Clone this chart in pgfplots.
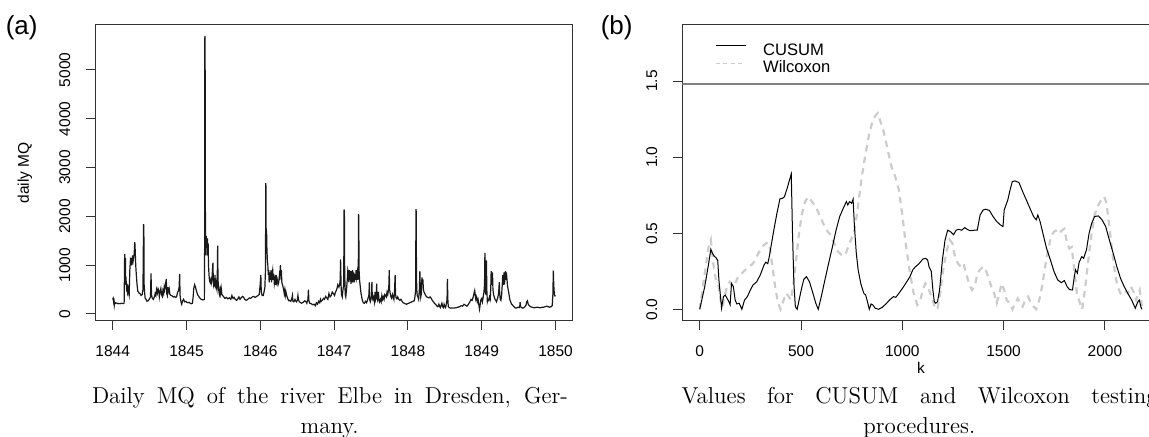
\documentclass[border=0pt]{standalone}
\usepackage{fontspec}
\setsansfont{Liberation Sans}
\usepackage{pgfplots}
\pgfplotsset{compat=1.18}

% scale: 1 px of the reference = 0.5pt
\pgfplotsset{
  rplot/.style={
    scale only axis, width=238.75pt, height=147.85pt, anchor=origin,
    axis line style={black!80, line width=0.5pt},
    tick align=outside, tick pos=left, major tick length=4.75pt,
    tick style={black!80, line width=0.5pt},
    /pgf/number format/assume math mode=true,
    /pgf/number format/1000 sep={},
    tick label style={font=\sffamily\fontsize{7.75}{9}\selectfont},
    xticklabel style={anchor=north, inner sep=0pt, yshift=-7.6pt},
    yticklabel style={rotate=90, anchor=south, inner sep=0pt, yshift=7.5pt},
  },
}

\begin{document}
\begin{tikzpicture}[x=1pt,y=1pt]

\node[font=\sffamily\fontsize{13}{15}\selectfont] at (10.85,-13.75) {(a)};
\node[font=\sffamily\fontsize{13}{15}\selectfont] at (308.35,-13.75) {(b)};

% (a) daily MQ, x = years after 1844
\begin{axis}[rplot, at={(56.35pt,-157pt)},
    xmin=-0.236, xmax=6.234, ymin=-137, ymax=5922,
    xtick={0,1,2,3,4,5,6},
    xticklabels={1844,1845,1846,1847,1848,1849,1850},
    ytick={0,1000,2000,3000,4000,5000},
    ylabel={daily MQ},
    every axis y label/.style={at={(axis description cs:-0.1476,0.5)}, rotate=90, anchor=center,
      font=\sffamily\fontsize{7.75}{9}\selectfont},
]
\addplot[black!90, line width=0.6pt] coordinates {
(0.000,300) (0.005,320) (0.010,270) (0.015,330) (0.022,180) (0.028,240)
(0.040,220) (0.055,225) (0.070,210) (0.085,215) (0.100,210) (0.115,220)
(0.130,215) (0.145,215) (0.155,230) (0.162,1230) (0.167,800) (0.172,1150)
(0.177,600) (0.183,650) (0.190,460) (0.195,620) (0.202,450) (0.210,520)
(0.217,420) (0.223,380) (0.232,900) (0.240,1100) (0.248,1050) (0.255,1150)
(0.262,1000) (0.270,1200) (0.278,1100) (0.290,1220) (0.300,1470) (0.305,1300)
(0.312,1000) (0.320,800) (0.330,600) (0.340,470) (0.355,430) (0.370,420)
(0.385,380) (0.400,400) (0.410,500) (0.418,1840) (0.422,1800) (0.426,600) (0.432,450)
(0.440,320) (0.452,300) (0.465,260) (0.478,270) (0.495,300) (0.512,350)
(0.519,830) (0.526,400) (0.535,330) (0.550,300) (0.565,350) (0.575,420)
(0.585,380) (0.595,500) (0.605,430) (0.615,520) (0.625,480) (0.632,350)
(0.642,450) (0.652,520) (0.662,400) (0.672,360) (0.680,480) (0.690,420)
(0.698,550) (0.705,500) (0.715,600) (0.726,720) (0.732,420) (0.740,380)
(0.747,550) (0.755,460) (0.765,520) (0.775,400) (0.790,380) (0.805,370)
(0.820,350) (0.835,360) (0.850,340) (0.865,350) (0.880,450) (0.890,470)
(0.900,550) (0.907,820) (0.913,380) (0.925,250) (0.935,200) (0.945,260)
(0.960,300) (0.975,250) (0.990,260) (1.005,240) (1.020,230) (1.035,240)
(1.050,220) (1.065,210) (1.080,220) (1.090,350) (1.098,520) (1.110,600)
(1.122,550) (1.135,470) (1.150,400) (1.170,350) (1.190,310) (1.210,290)
(1.230,290) (1.242,300) (1.246,1500) (1.248,5650) (1.250,5700) (1.252,5650) (1.255,2500) (1.258,1300)
(1.263,1200) (1.268,1600) (1.273,1350) (1.278,1500) (1.283,1550) (1.288,1200)
(1.293,1450) (1.298,1000) (1.305,800) (1.312,680) (1.320,650) (1.328,700)
(1.335,620) (1.342,660) (1.358,1050) (1.363,700) (1.368,600) (1.374,650)
(1.380,560) (1.386,800) (1.392,600) (1.398,650) (1.405,550) (1.412,500)
(1.418,900) (1.422,1400) (1.427,700) (1.433,550) (1.440,450) (1.447,400)
(1.455,500) (1.462,420) (1.470,530) (1.480,400) (1.490,380) (1.505,350)
(1.520,320) (1.540,340) (1.560,310) (1.580,330) (1.600,300) (1.615,380)
(1.630,320) (1.645,340) (1.660,300) (1.680,280) (1.695,310) (1.710,350)
(1.725,300) (1.740,330) (1.760,360) (1.775,340) (1.790,300) (1.810,280)
(1.830,300) (1.850,330) (1.870,320) (1.890,350) (1.910,360) (1.930,340)
(1.950,360) (1.970,380) (1.985,400) (1.998,600) (2.007,800) (2.013,450)
(2.025,380) (2.040,380) (2.050,450) (2.062,550) (2.070,900) (2.074,2680) (2.077,2600)
(2.080,1400) (2.085,1700) (2.090,1300) (2.096,1100) (2.102,1000) (2.108,800)
(2.114,900) (2.120,650) (2.126,750) (2.132,850) (2.138,700) (2.145,900)
(2.152,650) (2.160,820) (2.168,900) (2.175,700) (2.182,820) (2.190,620)
(2.198,700) (2.206,600) (2.214,800) (2.222,650) (2.230,700) (2.240,600)
(2.250,650) (2.258,780) (2.265,700) (2.272,1000) (2.278,780) (2.285,900)
(2.292,650) (2.300,600) (2.308,550) (2.316,500) (2.324,420) (2.332,500)
(2.340,380) (2.348,450) (2.356,390) (2.364,350) (2.375,300) (2.388,270)
(2.400,280) (2.412,260) (2.425,300) (2.435,380) (2.442,260) (2.455,250)
(2.470,300) (2.480,270) (2.490,250) (2.502,280) (2.510,380) (2.516,300)
(2.528,250) (2.540,240) (2.560,220) (2.580,240) (2.600,270) (2.615,260)
(2.630,220) (2.645,300) (2.652,500) (2.658,280) (2.670,220) (2.690,210)
(2.710,190) (2.730,200) (2.745,170) (2.760,230) (2.775,200) (2.790,260)
(2.805,230) (2.815,300) (2.825,260) (2.840,280) (2.855,320) (2.870,300)
(2.885,360) (2.900,330) (2.915,300) (2.930,420) (2.945,350) (2.960,380)
(2.975,450) (2.990,420) (3.005,380) (3.020,450) (3.035,500) (3.050,600)
(3.065,550) (3.075,600) (3.082,700) (3.088,1120) (3.094,600) (3.100,400)
(3.110,350) (3.120,500) (3.130,600) (3.135,2140) (3.139,2100) (3.143,900) (3.150,400)
(3.158,350) (3.168,500) (3.178,700) (3.186,900) (3.193,850) (3.200,650)
(3.207,900) (3.214,700) (3.220,880) (3.228,620) (3.235,880) (3.242,650)
(3.250,900) (3.258,750) (3.266,850) (3.274,650) (3.282,820) (3.290,700)
(3.298,900) (3.306,750) (3.314,850) (3.322,700) (3.328,1000) (3.331,2050) (3.334,2000)
(3.338,900) (3.345,700) (3.355,550) (3.365,420) (3.380,300) (3.395,230)
(3.410,220) (3.425,260) (3.440,230) (3.455,300) (3.465,350) (3.472,400)
(3.477,650) (3.482,300) (3.490,250) (3.500,300) (3.507,400) (3.512,660)
(3.517,350) (3.525,300) (3.535,350) (3.545,250) (3.555,450) (3.562,300)
(3.570,350) (3.577,620) (3.582,320) (3.590,280) (3.600,450) (3.607,300)
(3.617,250) (3.627,300) (3.637,250) (3.647,380) (3.657,300) (3.667,350)
(3.677,300) (3.687,400) (3.697,380) (3.707,350) (3.717,450) (3.727,400)
(3.737,500) (3.742,600) (3.747,900) (3.752,500) (3.760,420) (3.770,350)
(3.780,320) (3.790,400) (3.800,350) (3.810,300) (3.818,450) (3.827,800)
(3.832,400) (3.840,330) (3.850,310) (3.862,350) (3.875,300) (3.890,280)
(3.905,300) (3.920,260) (3.935,230) (3.950,220) (3.965,210) (3.980,200)
(3.995,210) (4.010,220) (4.025,230) (4.040,240) (4.055,250) (4.070,260)
(4.085,270) (4.095,350) (4.105,500) (4.109,2150) (4.112,2100) (4.116,800) (4.120,500)
(4.126,380) (4.135,350) (4.145,300) (4.155,500) (4.162,880) (4.168,500)
(4.174,350) (4.180,400) (4.190,750) (4.196,600) (4.202,720) (4.210,500)
(4.218,450) (4.228,420) (4.240,380) (4.255,350) (4.270,340) (4.285,330)
(4.300,350) (4.315,320) (4.330,280) (4.345,250) (4.360,220) (4.375,200)
(4.390,170) (4.400,150) (4.410,160) (4.420,200) (4.430,150) (4.440,130)
(4.450,180) (4.460,220) (4.470,150) (4.480,130) (4.490,200) (4.500,150)
(4.510,130) (4.520,200) (4.530,300) (4.535,720) (4.541,300) (4.547,150)
(4.560,130) (4.580,120) (4.600,125) (4.620,120) (4.640,125) (4.660,130)
(4.680,140) (4.700,150) (4.720,170) (4.740,160) (4.760,200) (4.780,180)
(4.800,160) (4.820,200) (4.840,250) (4.855,300) (4.870,280) (4.885,350)
(4.895,420) (4.905,480) (4.913,380) (4.920,300) (4.930,350) (4.940,250)
(4.950,300) (4.960,200) (4.970,100) (4.980,200) (4.990,300) (5.000,320)
(5.010,250) (5.020,350) (5.030,450) (5.038,600) (5.043,1250) (5.048,500)
(5.055,400) (5.060,700) (5.064,1100) (5.069,500) (5.076,250) (5.085,300)
(5.095,280) (5.105,350) (5.115,300) (5.122,500) (5.128,880) (5.134,600)
(5.140,700) (5.146,850) (5.152,500) (5.160,400) (5.170,350) (5.180,300)
(5.190,280) (5.200,250) (5.210,300) (5.220,350) (5.230,450) (5.238,650)
(5.244,400) (5.252,300) (5.260,280) (5.270,400) (5.278,600) (5.285,800)
(5.291,600) (5.297,700) (5.303,850) (5.309,600) (5.315,800) (5.322,880)
(5.328,700) (5.334,850) (5.340,750) (5.348,600) (5.358,500) (5.368,420)
(5.380,300) (5.392,250) (5.405,200) (5.420,180) (5.435,150) (5.450,130)
(5.465,120) (5.480,130) (5.495,140) (5.508,130) (5.515,150) (5.520,240)
(5.526,150) (5.540,130) (5.560,120) (5.580,140) (5.600,180) (5.610,250)
(5.620,270) (5.630,200) (5.645,170) (5.660,150) (5.680,140) (5.700,130)
(5.720,130) (5.740,135) (5.760,140) (5.780,130) (5.800,130) (5.820,140)
(5.840,140) (5.860,150) (5.880,160) (5.900,150) (5.920,140) (5.940,150)
(5.955,170) (5.964,400) (5.970,890) (5.976,600) (5.984,400) (5.992,370)
(6.000,380)
};
\end{axis}

% (b) CUSUM and Wilcoxon
\begin{axis}[rplot, at={(349.85pt,-154.65pt)},
    xmin=-86, xmax=2271, ymin=-0.072, ymax=1.872,
    xtick={0,500,1000,1500,2000},
    ytick={0,0.5,1,1.5}, yticklabels={0.0,0.5,1.0,1.5},
    xlabel={k},
    every axis x label/.style={at={(axis description cs:0.5,-0.16)}, anchor=center,
      font=\sffamily\fontsize{7.75}{9}\selectfont},
    legend image code/.code={\draw[#1] (0pt,2.9pt) -- (15pt,2.9pt);},
    legend cell align=left,
    legend style={draw=none, fill=none, inner sep=0pt, column sep=8.35pt,
      nodes={inner sep=0pt, text height=6.2pt, text depth=2.6pt},
      font=\sffamily\fontsize{8.3}{9}\selectfont,
      at={(axis description cs:0.0685,0.94)}, anchor=north west},
]
\addlegendimage{black, line width=0.5pt}
\addlegendentry{CUSUM}
\addlegendimage{black!20, line width=0.5pt, dash pattern=on 2pt off 1.75pt}
\addlegendentry{Wilcoxon}

\addplot[black!50, line width=1.1pt, forget plot] coordinates {(-86,1.48) (2271,1.48)};

\addplot[black!20, line width=1.1pt, dash pattern=on 3.2pt off 2.6pt, forget plot] coordinates {
(0,0) (25,0.237) (44,0.41) (55,0.456) (67,0.30) (80,0.193) (93,0.15) (104,0.05) (113,0.018)
(122,0.083) (135,0.15) (148,0.18) (162,0.15) (175,0.17) (190,0.215) (208,0.237) (226,0.26)
(244,0.28) (263,0.30) (281,0.346) (299,0.39) (317,0.423) (335,0.44) (345,0.41) (359,0.28)
(372,0.15) (387,0.04) (399,0.0) (414,0.061) (427,0.105) (440,0.083) (450,0.061) (461,0.15)
(476,0.325) (490,0.5) (505,0.63) (520,0.708) (536,0.74) (554,0.708) (573,0.675) (591,0.62)
(609,0.566) (627,0.52) (645,0.49) (664,0.434) (682,0.38) (700,0.357) (718,0.357) (737,0.423)
(750,0.467) (764,0.52) (779,0.653) (800,0.873) (819,1.026) (837,1.158) (855,1.246) (870,1.278)
(879,1.29) (892,1.235) (910,1.158) (928,1.048) (946,0.94) (965,0.873) (983,0.785) (1001,0.61)
(1019,0.41) (1038,0.237) (1056,0.105) (1074,0.03) (1089,0.061) (1101,0.127) (1114,0.17)
(1125,0.15) (1138,0.105) (1151,0.061) (1162,0.0) (1174,0.007) (1187,0.105) (1202,0.26)
(1220,0.39) (1234,0.456) (1247,0.434) (1260,0.346) (1275,0.30) (1289,0.28) (1302,0.30)
(1315,0.237) (1329,0.17) (1344,0.127) (1357,0.15) (1371,0.237) (1384,0.26) (1399,0.28)
(1411,0.26) (1424,0.215) (1439,0.15) (1453,0.105) (1466,0.04) (1479,0.105) (1490,0.17)
(1503,0.127) (1515,0.061) (1530,0.04) (1544,0.0) (1557,0.04) (1570,0.072) (1581,0.04)
(1594,0.018) (1607,0.061) (1621,0.083) (1636,0.04) (1648,0.018) (1661,0.0) (1676,0.061)
(1690,0.15) (1705,0.28) (1720,0.39) (1734,0.478) (1749,0.51) (1763,0.52) (1776,0.5)
(1789,0.52) (1800,0.53) (1813,0.434) (1825,0.40) (1836,0.41) (1849,0.26) (1862,0.105)
(1877,0.04) (1888,0.0) (1899,0.105) (1909,0.215) (1922,0.368) (1935,0.5) (1949,0.62)
(1968,0.686) (1986,0.728) (1997,0.74) (2008,0.697) (2022,0.544) (2037,0.368) (2050,0.237)
(2062,0.15) (2077,0.105) (2095,0.127) (2113,0.105) (2128,0.15) (2141,0.116) (2154,0.061)
(2165,0.105) (2172,0.127) (2183,0.018)
};

\addplot[black, line width=0.5pt, forget plot] coordinates {
(0,0) (25,0.15) (44,0.30) (55,0.395) (62,0.37) (71,0.35) (80,0.34) (89,0.32) (95,0.19)
(108,0.007) (117,0.083) (126,0.094) (135,0.072) (144,0.05) (150,0.03) (157,0.17) (166,0.15)
(175,0.06) (184,0.035) (195,0.04) (208,0.0) (221,0.06) (235,0.083) (250,0.127) (263,0.16)
(281,0.18) (299,0.226) (317,0.29) (326,0.31) (336,0.30) (345,0.357) (363,0.5) (381,0.63)
(396,0.726) (409,0.73) (418,0.74) (432,0.796) (441,0.84) (452,0.89) (458,0.5) (465,0.17)
(472,0.018) (481,0.0) (494,0.083) (505,0.15) (514,0.197) (527,0.215) (542,0.18) (554,0.127)
(573,0.04) (585,0.0) (600,0.083) (618,0.193) (636,0.30) (655,0.41) (673,0.52) (691,0.61)
(709,0.665) (724,0.708) (731,0.686) (740,0.708) (750,0.697) (757,0.724) (764,0.54)
(773,0.368) (782,0.26) (795,0.17) (810,0.105) (819,0.094) (828,0.05) (837,0.0) (846,0.035)
(855,0.028) (866,0.007) (883,0.0) (901,0.013) (919,0.035) (937,0.061) (956,0.083) (968,0.079)
(983,0.105) (1001,0.138) (1019,0.175) (1038,0.215) (1052,0.26) (1065,0.28) (1083,0.30)
(1101,0.33) (1114,0.335) (1125,0.325) (1132,0.28) (1143,0.25) (1151,0.127) (1158,0.05)
(1165,0.04) (1174,0.05) (1184,0.127) (1198,0.325) (1211,0.456) (1224,0.52) (1238,0.51)
(1253,0.49) (1266,0.52) (1278,0.526) (1293,0.52) (1308,0.537) (1320,0.526) (1333,0.517)
(1357,0.52) (1370,0.52) (1384,0.62) (1399,0.653) (1411,0.658) (1430,0.65) (1448,0.61)
(1466,0.577) (1484,0.555) (1497,0.544) (1503,0.653) (1512,0.686) (1521,0.72) (1530,0.774)
(1543,0.84) (1557,0.844) (1576,0.833) (1594,0.774) (1612,0.72) (1630,0.664) (1648,0.61)
(1661,0.588) (1669,0.62) (1680,0.577) (1694,0.5) (1712,0.40) (1731,0.325) (1749,0.248)
(1767,0.193) (1785,0.175) (1800,0.189) (1813,0.15) (1825,0.13) (1840,0.127) (1849,0.215)
(1855,0.26) (1864,0.237) (1873,0.31) (1886,0.346) (1895,0.335) (1909,0.39) (1922,0.5)
(1935,0.566) (1949,0.61) (1968,0.614) (1986,0.588) (2004,0.544) (2022,0.456) (2041,0.368)
(2059,0.28) (2077,0.204) (2095,0.15) (2113,0.105) (2132,0.061) (2150,0.007) (2163,0.05)
(2170,0.061) (2177,0.018) (2183,0.0)
};
\end{axis}

% captions
\begin{scope}[font=\fontsize{11.5}{15}\selectfont]
\node[anchor=base west, inner sep=0pt] at (45.8,-201.5) {\makebox[238pt][s]{Daily MQ of the river Elbe in Dresden, Ger-}};
\node[anchor=base, inner sep=0pt] at (164.8,-216.5) {many.};
\node[anchor=base west, inner sep=0pt] at (340.65,-201.5) {\makebox[238pt][s]{Values for CUSUM and Wilcoxon testing}};
\node[anchor=base, inner sep=0pt] at (459.65,-216.5) {procedures.};
\end{scope}

\pgfresetboundingbox
\path[use as bounding box] (0,0) rectangle (574.5,-218.5);
\end{tikzpicture}
\end{document}
